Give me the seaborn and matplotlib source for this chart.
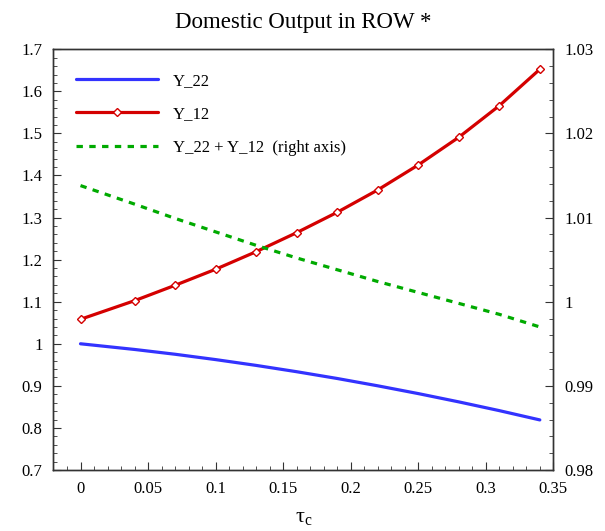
import pandas as pd
import numpy as np
import matplotlib
matplotlib.use("Agg")
import matplotlib.pyplot as plt
import seaborn as sns
from matplotlib.ticker import MultipleLocator

# =====================================
# Data
# =====================================

tau_c = [0.0, 0.04, 0.07, 0.10, 0.13, 0.16, 0.19, 0.22, 0.25, 0.28, 0.31, 0.34]

y_22 = [1.000, 0.9865, 0.9751, 0.9624, 0.9486, 0.9336,
        0.9175, 0.9001, 0.8816, 0.8619, 0.8411, 0.8190]

y_12 = [1.0582, 1.1024, 1.1390, 1.1771, 1.2189, 1.2641,
        1.3125, 1.3656, 1.4250, 1.4908, 1.5659, 1.6525]

y_sum = [1.0138, 1.0116, 1.0099, 1.0083, 1.0067, 1.0052,
         1.0038, 1.0024, 1.0011, 0.9998, 0.9985, 0.9970]

x_ticks = [0, 0.05, 0.1, 0.15, 0.2, 0.25, 0.3, 0.35]
x_tick_labels = ["0", "0.05", "0.1", "0.15", "0.2", "0.25", "0.3", "0.35"]
left_ticks = [0.7, 0.8, 0.9, 1.0, 1.1, 1.2, 1.3, 1.4, 1.5, 1.6, 1.7]
left_tick_labels = ["0.7", "0.8", "0.9", "1", "1.1", "1.2", "1.3", "1.4", "1.5", "1.6", "1.7"]
right_ticks = [0.98, 0.99, 1.0, 1.01, 1.02, 1.03]
right_tick_labels = ["0.98", "0.99", "1", "1.01", "1.02", "1.03"]

df = pd.DataFrame({"tau": tau_c, "Y_22": y_22, "Y_12": y_12, "sum": y_sum})

# =====================================
# Style
# =====================================

sns.set_style("ticks")
plt.rcParams["font.family"] = ["Liberation Serif", "DejaVu Serif"]
plt.rcParams["mathtext.fontset"] = "stix"
plt.rcParams["text.color"] = "black"
plt.rcParams["axes.labelcolor"] = "black"

blue = "#3333FF"
red = "#D40000"
green = "#00AA00"

fig = plt.figure(figsize=(6.05, 5.31), dpi=100)
ax = fig.add_axes([0.0884, 0.1149, 0.8262, 0.7923])
ax2 = ax.twinx()

# =====================================
# Lines
# =====================================

sns.lineplot(data=df, x="tau", y="Y_22", ax=ax, color=blue, linewidth=2.3,
             label="Y_22", legend=False)

sns.lineplot(data=df, x="tau", y="Y_12", ax=ax, color=red, linewidth=2.3,
             marker="D", markersize=4, markerfacecolor="white",
             markeredgecolor=red, markeredgewidth=1.0,
             label="Y_12", legend=False)

sns.lineplot(data=df, x="tau", y="sum", ax=ax2, color=green, linewidth=2.3,
             dashes=False, label="Y_22 + Y_12  (right axis)", legend=False)
ax2.lines[0].set_dashes([2.0, 2.0])

# =====================================
# Axes
# =====================================

ax.set_xlim(-0.02, 0.35)
ax.set_ylim(0.7, 1.7)
ax2.set_ylim(0.98, 1.03)

ax.set_xticks(x_ticks)
ax.set_xticklabels(x_tick_labels)
ax.set_yticks(left_ticks)
ax.set_yticklabels(left_tick_labels)
ax2.set_yticks(right_ticks)
ax2.set_yticklabels(right_tick_labels)

ax.xaxis.set_minor_locator(MultipleLocator(0.01))
ax.yaxis.set_minor_locator(MultipleLocator(0.02))
ax2.yaxis.set_minor_locator(MultipleLocator(0.002))

ax.tick_params(axis="both", which="major", direction="in", length=6,
               width=0.8, labelsize=12, pad=8, color="#333333",
               labelcolor="black")
ax.tick_params(axis="both", which="minor", direction="in", length=3,
               width=0.6, color="#333333")
ax2.tick_params(axis="y", which="major", direction="in", length=6,
                width=0.8, labelsize=12, pad=8, color="#333333",
                labelcolor="black")
ax2.tick_params(axis="y", which="minor", direction="in", length=3,
                width=0.6, color="#333333")

for sp in ax.spines.values():
    sp.set_visible(True)
    sp.set_color("#333333")
    sp.set_linewidth(1.0)
for sp in ax2.spines.values():
    sp.set_color("#333333")
    sp.set_linewidth(1.0)

ax.set_xlabel(r"τ$_\mathregular{c}$", fontsize=16, labelpad=8)
ax.set_ylabel("")
ax2.set_ylabel("")
ax.set_title("Domestic Output in ROW *", fontsize=16.5, pad=15)

# =====================================
# Legend
# =====================================

h1, l1 = ax.get_legend_handles_labels()
h2, l2 = ax2.get_legend_handles_labels()
ax.legend(h1 + h2, l1 + l2, loc="upper left", frameon=False, fontsize=12,
          handlelength=4.9, handletextpad=0.9, labelspacing=1.05,
          numpoints=1, markerfirst=True,
          bbox_to_anchor=(0.015, 0.98))

plt.savefig("out.png", dpi=100)
plt.close()
